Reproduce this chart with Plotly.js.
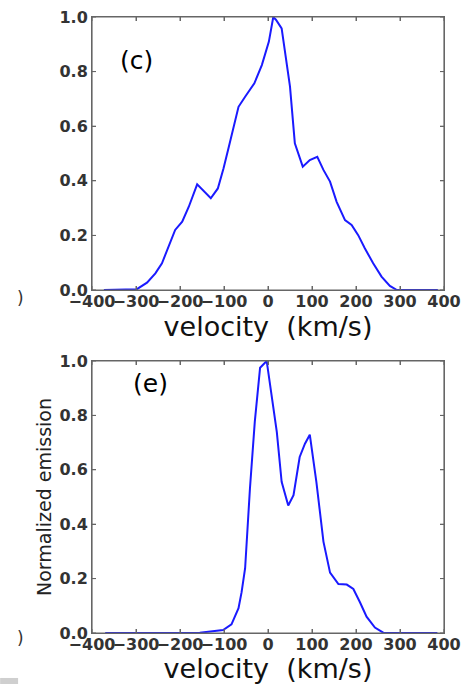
<!DOCTYPE html>
<html>
<head>
<meta charset="utf-8">
<script src="https://cdn.plot.ly/plotly-3.0.1.min.js"></script>
<style>html,body{margin:0;padding:0;background:#fff;}#chart{width:463px;height:684px;}</style>
</head>
<body>
<div id="chart"></div>
<script>
// Panel (c)
const velocityC = [-373,-298,-275,-256,-241,-226,-211,-195,-180,-161,-130,-114,-101,-89,-78,-67,-52,-31,-14,-7,2,12,18,31,50,61,79,95,112,126,141,156,175,190,205,220,239,258,277,293,386];
const emissionC = [0,0.003,0.027,0.061,0.098,0.159,0.22,0.25,0.305,0.387,0.336,0.372,0.446,0.525,0.604,0.671,0.708,0.757,0.824,0.862,0.91,1.0,0.99,0.958,0.745,0.537,0.452,0.476,0.488,0.44,0.397,0.323,0.256,0.238,0.201,0.153,0.098,0.049,0.015,0.0,0.0];
// Panel (e)
const velocityE = [-370,-200,-155,-102,-83,-67,-60,-52,-41,-30,-18,-3,12,20,31,46,58,72,84,95,110,126,141,160,179,194,209,224,243,262,385];
const emissionE = [0,0,0.001,0.011,0.032,0.091,0.15,0.238,0.532,0.777,0.975,1.0,0.838,0.739,0.556,0.469,0.507,0.647,0.696,0.729,0.555,0.336,0.222,0.18,0.178,0.162,0.113,0.06,0.02,0.001,0];

const xTicks = [-400,-300,-200,-100,0,100,200,300,400];
const yTicks = [0,0.2,0.4,0.6,0.8,1.0];
const panelLabels = ['(c)','(e)'];
const xTitle = 'velocity  (km/s)';
const yTitle = 'Normalized emission';

const lineStyle = {color:'#1a1aff', width:2};
const traces = [
  {x: velocityC, y: emissionC, type:'scatter', mode:'lines', line: lineStyle, xaxis:'x', yaxis:'y', showlegend:false, hoverinfo:'skip'},
  {x: velocityE, y: emissionE, type:'scatter', mode:'lines', line: lineStyle, xaxis:'x2', yaxis:'y2', showlegend:false, hoverinfo:'skip'}
];

const frameColor = '#666';
const tickFont = {family:'DejaVu Sans', size:16, color:'#333', weight:'bold'};
function xAxis(anchor, title){
  return {
    anchor: anchor, domain:[0,1], range:[-400,400], tickmode:'array', tickvals:xTicks, tickangle:0,
    ticks:'inside', ticklen:4, tickwidth:1, tickcolor:frameColor, showline:true, linecolor:frameColor, linewidth:1, mirror:'allticks',
    showgrid:false, zeroline:false, tickfont:tickFont, ticklabelstandoff:-3,
    title:{text:title, font:{family:'DejaVu Sans', size:27, color:'#111'}, standoff:4}
  };
}
function yAxis(anchor, domain, title){
  const ax = {
    anchor: anchor, domain: domain, range:[0,1], tickmode:'array', tickvals:yTicks, tickformat:'.1f',
    ticks:'inside', ticklen:4, tickwidth:1, tickcolor:frameColor, showline:true, linecolor:frameColor, linewidth:1, mirror:'allticks',
    showgrid:false, zeroline:false, tickfont:tickFont
  };
  if (title) ax.title = {text:title, font:{family:'DejaVu Sans', size:19, color:'#222'}, standoff:2};
  return ax;
}

// Frame and inside tick marks drawn as shapes (box on all four sides, matplotlib style)
const shapes = [];
const tickFracX = 4/352, tickFracY = 4/273;
[['x','y'],['x2','y2']].forEach(([xa, ya]) => {
  shapes.push({type:'rect', xref:xa+' domain', yref:ya+' domain', x0:0, x1:1, y0:0, y1:1, line:{color:frameColor, width:1.2}, fillcolor:'rgba(0,0,0,0)', layer:'above'});
  xTicks.forEach(t => {
    shapes.push({type:'line', xref:xa, yref:ya+' domain', x0:t, x1:t, y0:0, y1:tickFracY, line:{color:frameColor, width:1}});
    shapes.push({type:'line', xref:xa, yref:ya+' domain', x0:t, x1:t, y0:1, y1:1-tickFracY, line:{color:frameColor, width:1}});
  });
  yTicks.forEach(t => {
    shapes.push({type:'line', xref:xa+' domain', yref:ya, x0:0, x1:tickFracX, y0:t, y1:t, line:{color:frameColor, width:1}});
    shapes.push({type:'line', xref:xa+' domain', yref:ya, x0:1, x1:1-tickFracX, y0:t, y1:t, line:{color:frameColor, width:1}});
  });
});
shapes.push({type:'rect', xref:'paper', yref:'paper', x0:-0.261, x1:-0.210, y0:-0.0828, y1:-0.073, fillcolor:'#cfcfcf', line:{width:0}});

const layout = {
  width:463, height:684,
  margin:{l:92, r:19, t:17, b:51},
  paper_bgcolor:'#fff', plot_bgcolor:'#fff',
  xaxis: xAxis('y', xTitle),
  yaxis: yAxis('x', [0.5568,1], null),
  xaxis2: xAxis('y2', '\u2003' + xTitle),
  yaxis2: yAxis('x2', [0,0.4416], yTitle),
  annotations:[
    {xref:'x', yref:'y', x:-300, y:0.842, text:panelLabels[0], showarrow:false, font:{family:'DejaVu Sans', size:25, color:'#000'}},
    {xref:'x2', yref:'y2', x:-266, y:0.919, text:panelLabels[1], showarrow:false, font:{family:'DejaVu Sans', size:25, color:'#000'}},
    {xref:'paper', yref:'paper', x:-0.2045, y:0.544, xanchor:'center', yanchor:'middle', text:')', showarrow:false, font:{family:'DejaVu Sans', size:17, color:'#333'}},
    {xref:'paper', yref:'paper', x:-0.2045, y:-0.008, xanchor:'center', yanchor:'middle', text:')', showarrow:false, font:{family:'DejaVu Sans', size:17, color:'#333'}}
  ],
  shapes: shapes
};

Plotly.newPlot('chart', traces, layout, {displayModeBar:false});
</script>
</body>
</html>
